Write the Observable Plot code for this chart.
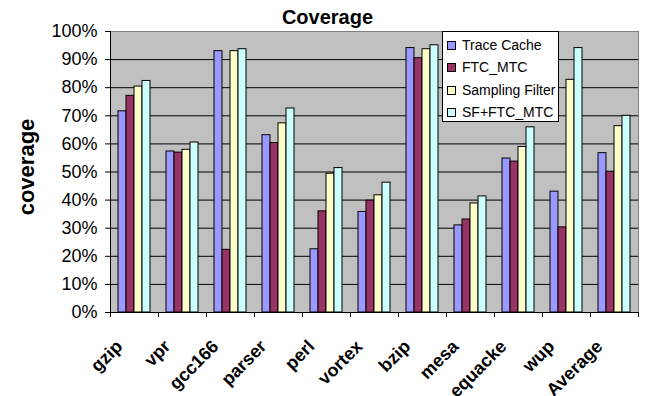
<!DOCTYPE html>
<html>
<head>
<meta charset="utf-8">
<script src="https://cdn.jsdelivr.net/npm/d3@7"></script>
<script src="https://cdn.jsdelivr.net/npm/@observablehq/plot@0.6"></script>
<style>
  body { margin: 0; background: white; font-family: "Liberation Sans", Arial, sans-serif; }
  #chart { position: relative; width: 655px; height: 396px; }
  #chart svg { position: absolute; left: 0; top: 0; }
  .title { position: absolute; left: 0; width: 655px; top: 6px; text-align: center; font-weight: bold; font-size: 20px; }
  .ylabel { position: absolute; left: 27px; top: 167px; transform: translate(-50%, -50%) rotate(-90deg); font-weight: bold; font-size: 22px; white-space: nowrap; }
  .legend { position: absolute; left: 442px; top: 31px; width: 115px; height: 89px; background: white; border: 1px solid black; font-size: 14px; }
  .legend .item { position: absolute; left: 4px; height: 16px; line-height: 16px; white-space: nowrap; }
  .legend .sw { display: inline-block; width: 7px; height: 7px; border: 1px solid black; margin-right: 6px; vertical-align: 0px; }
</style>
</head>
<body>
<div id="chart"></div>
<script>
// Benchmarks and the four trace-cache configurations
const categories = ["gzip", "vpr", "gcc166", "parser", "perl", "vortex", "bzip", "mesa", "equacke", "wup", "Average"];
const series = ["Trace Cache", "FTC_MTC", "Sampling Filter", "SF+FTC_MTC"];
const seriesColors = ["#9999ff", "#993366", "#ffffcc", "#ccffff"];

// Coverage per benchmark, one array per configuration
const traceCache     = [0.716, 0.573, 0.930, 0.631, 0.225, 0.358, 0.941, 0.310, 0.548, 0.430, 0.567];
const ftcMtc         = [0.771, 0.569, 0.223, 0.603, 0.360, 0.398, 0.905, 0.331, 0.537, 0.303, 0.501];
const samplingFilter = [0.804, 0.579, 0.930, 0.673, 0.494, 0.417, 0.937, 0.388, 0.589, 0.828, 0.663];
const sfFtcMtc       = [0.824, 0.605, 0.937, 0.726, 0.514, 0.462, 0.951, 0.413, 0.659, 0.941, 0.700];

const yTicks = [0, 0.1, 0.2, 0.3, 0.4, 0.5, 0.6, 0.7, 0.8, 0.9, 1.0];
const gridTicks = [0.1, 0.2, 0.3, 0.4, 0.5, 0.6, 0.7, 0.8, 0.9];

const valuesBySeries = [traceCache, ftcMtc, samplingFilter, sfFtcMtc];
const data = [];
categories.forEach((c, i) => {
  series.forEach((s, j) => data.push({category: c, series: s, value: valuesBySeries[j][i]}));
});

const width = 655, height = 396;
const marginLeft = 110, marginRight = 17, marginTop = 31, marginBottom = 84;
const step = (width - marginLeft - marginRight) / categories.length;

const chart = Plot.plot({
  width, height, marginLeft, marginRight, marginTop, marginBottom,
  style: {fontFamily: "'Liberation Sans', Arial, sans-serif", background: "white", color: "black"},
  fx: {domain: categories, padding: 0, label: null},
  x: {domain: series, paddingInner: 0, paddingOuter: 0.82, axis: null},
  y: {domain: [0, 1], axis: null},
  color: {domain: series, range: seriesColors},
  marks: [
    Plot.frame({fill: "#c0c0c0", facet: "super"}),
    Plot.gridY(gridTicks, {stroke: "black", strokeOpacity: 1}),
    Plot.frame({anchor: "top", stroke: "#808080", facet: "super"}),
    Plot.frame({anchor: "right", stroke: "#808080", facet: "super"}),
    Plot.barY(data, {fx: "category", x: "series", y: "value", fill: "series", stroke: "black", strokeWidth: 1}),
    Plot.axisY(yTicks, {tickFormat: d3.format(".0%"), tickSize: 5, tickPadding: 8, fontSize: 18, label: null}),
    Plot.frame({anchor: "left", stroke: "black", facet: "super"}),
    Plot.frame({anchor: "bottom", stroke: "black", facet: "super"}),
    // boundary ticks between benchmark groups
    Plot.axisFx({anchor: "bottom", text: null, tickSize: 5, dx: -step / 2, label: null}),
    Plot.axisFx(["Average"], {anchor: "bottom", text: null, tickSize: 5, dx: step / 2, label: null}),
    // rotated benchmark names
    Plot.axisFx({anchor: "bottom", tickSize: 0, tickRotate: -45, tickPadding: 31, dx: -15, fontSize: 18, fontWeight: "bold", label: null})
  ]
});

const root = document.getElementById("chart");
root.appendChild(chart);

const title = document.createElement("div");
title.className = "title";
title.textContent = "Coverage";
root.appendChild(title);

const ylabel = document.createElement("div");
ylabel.className = "ylabel";
ylabel.textContent = "coverage";
root.appendChild(ylabel);

const legend = document.createElement("div");
legend.className = "legend";
series.forEach((s, j) => {
  const item = document.createElement("div");
  item.className = "item";
  item.style.top = (5 + j * 22.4) + "px";
  const sw = document.createElement("span");
  sw.className = "sw";
  sw.style.background = seriesColors[j];
  item.appendChild(sw);
  item.appendChild(document.createTextNode(s));
  legend.appendChild(item);
});
root.appendChild(legend);
</script>
</body>
</html>
